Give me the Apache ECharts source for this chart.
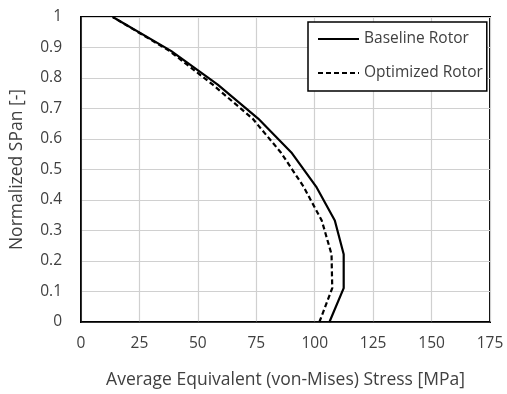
<!DOCTYPE html>
<html><head><meta charset="utf-8">
<script src="https://cdn.jsdelivr.net/npm/echarts@6/dist/echarts.min.js"></script>
<style>html,body{margin:0;padding:0;background:#fff}#c{width:507px;height:394px}</style>
</head><body><div id="c"></div>
<script>
const spanValues = [0, 0.111, 0.222, 0.333, 0.444, 0.556, 0.667, 0.778, 0.889, 1];
const baselineStress = [106.3, 112.4, 112.4, 108.6, 100.6, 90.0, 75.8, 58.5, 38.5, 13.6];
const optimizedStress = [102.0, 107.5, 107.2, 103.0, 95.2, 85.5, 73.4, 56.4, 37.8, 13.6];
const seriesNames = ['Baseline Rotor', 'Optimized Rotor'];
const xTicks = [0, 25, 50, 75, 100, 125, 150, 175];
const yTicks = [0, 0.1, 0.2, 0.3, 0.4, 0.5, 0.6, 0.7, 0.8, 0.9, 1];

const font = 'Open Sans';
const chart = echarts.init(document.getElementById('c'));
chart.setOption({
  animation: false,
  textStyle: { fontFamily: font },
  grid: { left: 79, right: 17, top: 17, bottom: 67, show: true, borderColor: '#000', borderWidth: 2, containLabel: false },
  legend: {
    orient: 'vertical', left: 308,  top: 22,
    padding: [9, 4, 10, 9], itemGap: 18,
    backgroundColor: '#fff', borderColor: '#000', borderWidth: 1.5,
    itemWidth: 41, itemHeight: 12,
    itemStyle: { opacity: 0 },
    textStyle: { fontFamily: font, fontSize: 15.5, color: '#404040' },
    data: seriesNames
  },
  xAxis: {
    type: 'value', min: 0, max: 175, interval: 25,
    name: 'Average Equivalent (von-Mises) Stress [MPa]', nameLocation: 'middle', nameGap: 49,
    nameTextStyle: { fontFamily: font, fontSize: 17.5, color: '#404040' },
    axisLine: { show: true, lineStyle: { color: '#000', width: 1.5 } },
    axisTick: { show: false },
    axisLabel: { fontFamily: font, fontSize: 15.5, color: '#404040', margin: 14,
      formatter: v => xTicks.includes(v) ? String(v) : '' },
    splitLine: { show: true, lineStyle: { color: '#d0d0d0', width: 1.2 } }
  },
  yAxis: {
    type: 'value', min: 0, max: 1, interval: 0.1,
    name: 'Normalized SPan [-]', nameLocation: 'middle', nameGap: 55, nameRotate: 90,
    nameTextStyle: { fontFamily: font, fontSize: 17.5, color: '#404040' },
    axisLine: { show: true, lineStyle: { color: '#000', width: 1.5 } },
    axisTick: { show: false },
    axisLabel: { fontFamily: font, fontSize: 15.5, color: '#404040', margin: 19,
      formatter: v => { const t = yTicks.find(y => Math.abs(y - v) < 1e-6); return t === undefined ? '' : String(t); } },
    splitLine: { show: true, lineStyle: { color: '#d0d0d0', width: 1.2 } }
  },
  series: [
    { name: seriesNames[0], type: 'line', showSymbol: false, symbol: 'none',
      data: baselineStress.map((x, i) => [x, spanValues[i]]),
      lineStyle: { color: '#000', width: 2.2, type: 'solid' }, itemStyle: { color: '#000' } },
    { name: seriesNames[1], type: 'line', showSymbol: false, symbol: 'none',
      data: optimizedStress.map((x, i) => [x, spanValues[i]]),
      lineStyle: { color: '#000', width: 2.2, type: [5, 3] }, itemStyle: { color: '#000' } }
  ]
});
</script></body></html>
